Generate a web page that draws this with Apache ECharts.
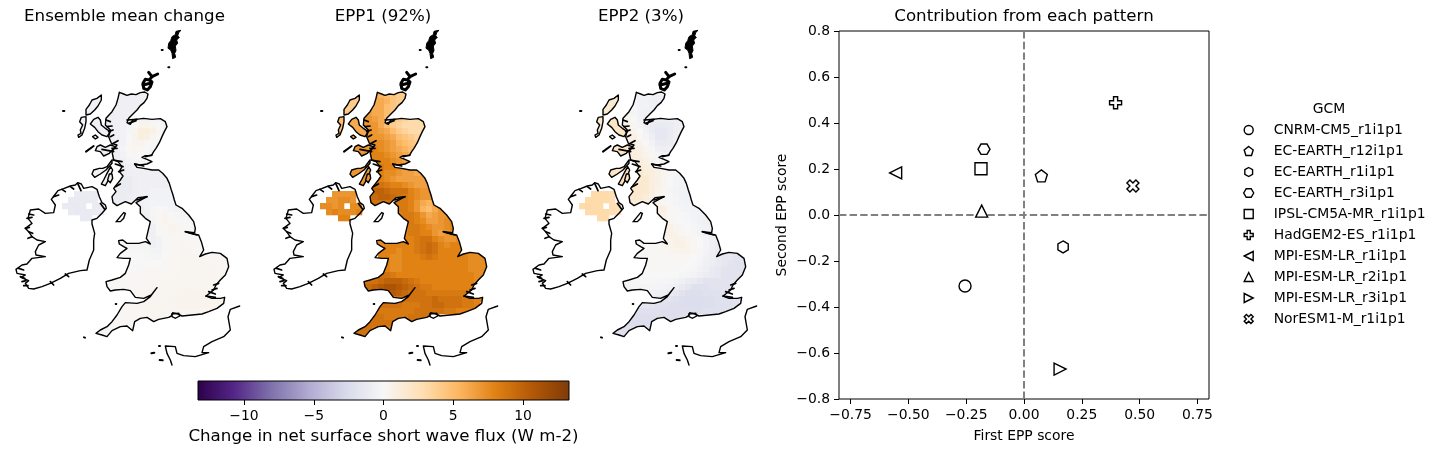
<!DOCTYPE html>
<html><head><meta charset="utf-8">
<style>html,body{margin:0;padding:0;background:#fff}#c{width:1440px;height:454px}</style>
<script src="https://cdn.jsdelivr.net/npm/echarts@6/dist/echarts.min.js"></script></head>
<body><div id="c"></div>
<script>
// ---------- scatter data ----------
const gcmNames=['CNRM-CM5_r1i1p1','EC-EARTH_r12i1p1','EC-EARTH_r1i1p1','EC-EARTH_r3i1p1','IPSL-CM5A-MR_r1i1p1','HadGEM2-ES_r1i1p1','MPI-ESM-LR_r1i1p1','MPI-ESM-LR_r2i1p1','MPI-ESM-LR_r3i1p1','NorESM1-M_r1i1p1'];
const firstScore=[-0.255,0.075,0.169,-0.173,-0.186,0.396,-0.555,-0.183,0.156,0.471];
const secondScore=[-0.309,0.17,-0.139,0.286,0.201,0.488,0.183,0.017,-0.67,0.126];
const gcmMarkers=['circle',
 'path://M50 0L100 38L81 100L19 100L0 38Z',
 'path://M50 0L93 25L93 75L50 100L7 75L7 25Z',
 'path://M25 7L75 7L100 50L75 93L25 93L0 50Z',
 'path://M0 0H100V100H0Z',
 'path://M33 0H67V33H100V67H67V100H33V67H0V33H33Z',
 'path://M0 50L100 0L100 100Z',
 'path://M50 0L100 100L0 100Z',
 'path://M0 0L100 50L0 100Z',
 'path://M25 0L50 25L75 0L100 25L75 50L100 75L75 100L50 75L25 100L0 75L25 50L0 25Z'];
const scoreXTicks=[-0.75,-0.5,-0.25,0,0.25,0.5,0.75];
const scoreYTicks=[-0.8,-0.6,-0.4,-0.2,0,0.2,0.4,0.6,0.8];
const barTicks=[-10,-5,0,5,10];
const barRange=[-13.3,13.3];
const puorStops=['#2d004b','#542788','#8073ac','#b2abd2','#d8daeb','#f7f7f7','#fee0b6','#fdb863','#e08214','#b35806','#7f3b08'];

// ---------- map data (map units: x 0-720, y 0-1050) ----------
const greatBritain=[[322,217],[335,222],[345,226],[358,222],[372,224],[385,218],[398,216],[408,222],[405,235],[396,248],[385,257],[375,270],[362,283],[350,295],[345,308],[355,313],[362,300],[372,298],[395,295],[420,298],[445,296],[460,305],[465,320],[457,335],[450,350],[442,368],[432,385],[425,395],[418,407],[400,407],[390,412],[405,418],[420,425],[405,432],[385,435],[368,432],[375,442],[395,445],[420,450],[440,450],[452,460],[465,475],[472,490],[478,510],[483,525],[487,540],[492,555],[510,565],[530,585],[545,605],[550,625],[548,638],[520,635],[535,640],[560,645],[568,665],[575,690],[563,710],[580,702],[600,697],[625,700],[645,715],[650,740],[640,765],[625,780],[612,795],[605,810],[590,822],[582,828],[600,835],[625,835],[638,832],[635,850],[615,865],[590,875],[570,882],[540,885],[510,888],[498,882],[482,878],[478,888],[470,892],[440,898],[425,905],[405,892],[385,895],[368,905],[362,932],[345,918],[325,920],[300,932],[285,950],[270,945],[252,940],[265,930],[285,920],[300,905],[315,885],[330,860],[340,848],[375,850],[395,845],[415,830],[435,803],[418,825],[395,835],[370,832],[355,812],[335,808],[310,810],[295,813],[285,800],[282,785],[300,780],[325,772],[340,760],[350,735],[355,715],[335,715],[315,713],[325,700],[345,685],[335,680],[322,672],[320,662],[332,660],[345,670],[380,670],[400,665],[415,672],[403,655],[410,625],[415,605],[400,595],[385,580],[385,560],[372,548],[405,530],[378,533],[358,552],[340,545],[315,557],[303,548],[300,530],[312,515],[305,505],[325,480],[333,468],[322,455],[330,440],[318,425],[305,420],[300,395],[315,375],[298,370],[290,350],[295,330],[280,315],[282,295],[300,275],[312,255],[318,235],[322,217]];
const ireland=[[118,538],[128,525],[138,512],[155,506],[175,498],[190,495],[197,488],[208,492],[215,505],[240,500],[255,508],[262,530],[270,548],[280,555],[283,565],[270,580],[255,595],[240,600],[240,612],[248,640],[245,660],[245,690],[232,720],[225,750],[205,752],[170,760],[145,775],[115,790],[90,800],[65,807],[50,805],[40,790],[50,782],[27,772],[40,765],[15,760],[12,748],[30,735],[45,732],[60,715],[100,710],[72,705],[70,695],[80,675],[100,665],[75,660],[60,650],[50,635],[40,625],[60,610],[48,595],[55,570],[80,567],[100,580],[125,578],[130,555],[118,538]];
const france=[[683,858],[655,868],[648,890],[655,930],[635,950],[600,965],[575,980],[570,998],[590,998],[550,1010],[515,1007],[495,1000],[490,980],[460,978],[465,1000],[475,1020],[480,1035]];
const isleOfMan=[[335,578],[325,590],[313,605],[325,605],[335,595],[340,580],[335,578]];
const wight=[[480,882],[500,880],[503,888],[490,895],[480,890],[480,882]];
const lewis=[[268,225],[255,235],[240,240],[232,255],[222,268],[222,285],[235,282],[248,270],[258,258],[268,240],[268,225]];
const uist=[[222,290],[208,292],[203,305],[212,315],[205,330],[207,340],[198,345],[200,352],[210,345],[218,325],[222,305],[222,290]];
const skye=[[258,292],[245,298],[235,312],[248,322],[258,335],[270,345],[285,350],[295,335],[280,325],[268,315],[265,300],[258,292]];
const mull=[[255,380],[250,392],[265,395],[275,408],[292,400],[310,380],[295,375],[280,382],[265,375],[255,380]];
const jura=[[300,420],[285,440],[272,445],[262,445],[245,450],[240,462],[248,472],[265,462],[282,450],[300,430],[300,420]];
const kintyre=[[296,440],[285,460],[275,480],[268,492],[280,497],[292,475],[302,450],[296,440]];
const arran=[[292,462],[287,480],[295,488],[302,475],[300,462],[292,462]];
const rum=[[250,345],[242,350],[250,357],[258,352],[250,345]];
const isleShapes=[lewis,uist,skye,mull,jura,kintyre,arran,rum];
const isleMean=[-.5,-.5,-.6,-.6,-.5,-.5,-.5,-.5];
const isleEpp1=[4,5,6,7,7,7,7,6];
const isleEpp2=[1.5,1.5,2,2,2,2.5,2.5,1];
const shetland=[[507,31],[500,38],[497,48],[502,52],[494,60],[497,70],[490,78],[492,92],[488,100],[491,112],[482,116],[480,100],[476,90],[468,85],[470,70],[476,62],[480,50],[490,44],[492,34],[507,31]];
const orkneyRing=[[420,170],[412,180],[400,178],[393,190],[395,205],[406,210],[415,200],[420,186],[412,180]];
const orkneyArm=[[410,157],[420,170],[437,162]];
const orkneySpur=[[393,195],[415,190]];
const specks=[[[153,273],[157,273]],[[449,90],[452,90]],[[469,142],[472,142]],[[216,952],[219,953]],[[311,852],[313,852]],[[418,1000],[427,998]],[[443,1020],[452,1021]],[[441,978],[444,978]],[[222,395],[245,378]]];
const coastStubs=[[[40,625],[52,622]],[[60,650],[48,655]],[[50,635],[62,640]],[[20,745],[35,750]],[[25,770],[38,775]],[[30,785],[42,782]],[[35,797],[48,797]],[[45,595],[60,592]],[[50,582],[65,585]],[[125,530],[140,525]],[[150,508],[160,515]],[[175,500],[185,507]],[[197,490],[207,512]],[[115,785],[125,795]],[[160,762],[170,770]],[[265,550],[278,568]],
[[282,300],[295,305]],[[285,320],[300,318]],[[290,335],[303,330]],[[295,350],[305,345]],[[300,372],[318,362]],[[300,385],[315,385]],[[270,388],[305,395]],[[303,420],[330,425]],[[310,432],[333,440]],[[320,455],[335,450]],[[345,300],[375,298]],[[350,310],[372,302]],[[375,540],[405,530]],[[520,635],[555,645]],[[582,828],[610,832]],[[590,815],[610,822]],[[605,795],[620,790]],[[600,810],[615,805]],[[310,500],[325,492]],[[400,410],[420,405]],[[368,432],[395,438]]];
const rowStart=[17,17,16,15,15,15,15,15,16,16,16,16,17,17,17,17,16,16,16,16,20,21,22,22,18,18,18,18,19,19,18,15,15,18,18,18,17,16,15,14,13];
const meanRows=[
[-.7,-.7,-.7,-.7,-.7,-.7],[-.7,-.7,-.7,-.7,-.7,-.7],[-.7,-.7,-.7,-.7,-.7,-.7],[-.8,-.8,-.7,-.7,-.7,-.7],
[-.8,-.8,-.7,-.6,-.5,-.4,-.4,-.4,-.3,-.3,-.3],[-.8,-.8,-.7,-.5,-.3,0,.5,.5,.3,0,-.3],[-.8,-.8,-.7,-.5,-.2,.3,1,1,.7,.2,-.2],[-.8,-.8,-.7,-.5,0,.5,1,.8,.3,0],
[-.8,-.7,-.5,.1,.4,.4,.2,0,-.2],[-.8,-.7,-.3,.2,.3,.2,0,-.2],[-.8,-.8,-.5,-.1,.1,0,-.2,-.3],[-.8,-.8,-.7,-.4,-.2,-.2,-.3,-.3],
[-.8,-.8,-.7,-.5,-.4,-.4,-.5,-.5],[-1,-1,-.8,-.7,-.6,-.6,-.6,-.6,-.6],[-1,-1,-1,-.8,-.7,-.7,-.7,-.6,-.6,-.6],[-1.2,-1.2,-1,-.8,-.7,-.7,-.6,-.6,-.6,-.6],
[-1,-1,-1,-1,-.8,-.7,-.6,-.5,-.5,-.5,-.5],[-1,-1,-1,-.9,-.8,-.7,-.6,-.5,-.5,-.5,-.5],[-1,-1,-1,-.9,-.8,-.7,-.5,-.4,-.4,-.4,-.4,-.4],[-.9,-.9,-.9,-.9,-.8,-.8,-.5,-.2,0,-.1,-.3,-.4,-.4],
[-.8,-.8,-.6,-.2,.2,.3,.1,-.2,-.3,-.3],[-.8,-.7,-.3,.2,.4,.3,.1,-.1,-.2,-.2],[-.8,-.6,-.1,.3,.4,.3,.1,-.1,-.2],[-.8,-.6,-.1,.2,.3,.3,.1,0,-.1],
[-.3,-.3,-.3,-.3,-.4,-.6,-.5,-.1,.1,.2,.2,.1,.1,0],[-.2,-.2,-.2,-.3,-.4,-.6,-.5,-.1,.1,.2,.3,.2,.2,.1],[-.1,-.1,-.1,-.1,-.2,-.4,-.4,-.1,.1,.2,.3,.3,.2,.2,.2,.2,.2,.2],[0,0,0,0,-.1,-.2,-.2,0,.1,.2,.3,.3,.3,.2,.2,.2,.2,.2],
[0,0,0,0,0,0,.1,.2,.2,.3,.3,.3,.3,.3,.2,.2,.2],[0,0,.1,.1,.1,.1,.1,.2,.2,.3,.3,.3,.3,.3,.3,.2,.2],[.1,.1,.1,.1,.1,.2,.2,.2,.2,.3,.3,.3,.3,.3,.3,.3,.3,.3],[.1,.1,.1,.1,.1,.1,.2,.2,.2,.2,.3,.3,.3,.3,.3,.3,.3,.3,.3,.3],
[.1,.1,.1,.1,.1,.2,.2,.2,.3,.3,.3,.3,.3,.3,.3,.3,.3,.3,.3],[.2,.2,.2,.2,.3,.3,.3,.3,.3,.3,.3,.4,.4,.4,.4,.4],[.2,.2,.2,.3,.3,.3,.3,.3,.4,.4,.4,.4,.4,.4,.4,.4,.4,.4],[.2,.2,.2,.3,.3,.3,.3,.3,.3,.4,.4,.4,.4,.4,.4,.4,.4],
[.2,.2,.2,.2,.2,.3,.3,.3,.3,.3,.3,.3,.3,.3,.3,.3,.3],[.2,.2,.2,.2,.2,.2,.2,.3,.3,.3,.3,.3],[.2,.2,.2,.2,.2,.2,.2,.2,.2],[.1,.1,.1,.1,.1,.1,.1],[.1,.1,.1,.1]];
const epp1Rows=[
[6,5.5,5,4.5,4,4],[6,6,5.5,4.5,4,3.5],[6.5,6,6,5,4.5,4],[7,6.5,6,6,5,4.5],
[7,7,6.5,6,5,4.5,4,3.5,3,3,3],[7,7,7,6,5,4,3.5,3,3,3,3],[7,7,7,6.5,6,5,4,3.5,3,3,3],[7,7,7,7,6.5,6,5,4.5,4,3.5],
[7.5,7.5,7.5,7,6.5,5.5,5,4.5,4],[8,8,7.5,7,6.5,6,5.5,5],[8,8,8,7.5,7,6.5,6,5.5],[8,8,8,8,7.5,7,6.5,6],
[8.5,8.5,8,8,7.5,7,6.5,6],[8.5,8,7.5,7.5,7,6.5,6.5,6,6],[8,8,7.5,7,6.5,6.5,6.5,6.5,6.5,6.5],[9,9,8.5,8,8,7.5,7,6.5,6.5,6.5],
[9.5,10,10,9.5,9,9,9,8,7.5,7,7],[9,9.5,10,10,9.5,9,8.5,8,7.5,7,7],[8.5,9,9,9,9,8.5,8.5,8,7,6,5.5,6],[8,8,8,8,8.5,8.5,8.5,8,7,5.5,5,6,7],
[8,8,8.5,8.5,8,7,6,6.5,7,7],[8,8.5,8.5,8,7.5,6.5,6.5,7,7.5,8],[8,8.5,8.5,8,7.5,7,7,7.5,8],[8,8.5,8.5,8,8,7,6.5,7,7.5],
[8,8,8,8,8,8,8.5,9,9,8,7.5,7,7,7.5],[7.5,8,8,8,8,8,8.5,9,9.5,9,8,7.5,8,8],[8,8,8,7.5,8,8,8.5,9,9.5,9,8,8,8,8,8,7.5,7.5,7.5],[8,8,7.5,7.5,8,8,8,8.5,9,8.5,8,8,8,8,8,7.5,7.5,7.5],
[8,7.5,7.5,8,8,8,8,8,8,8,8,8,8,8,7.5,7.5,7.5],[8,7.5,7.5,8,8,8,8,8,8,8,8,8,8,8,7.5,7.5,7.5],[9,9,8.5,8,8,8,8,8,8,8,8,8,8,8,8,8,7.5,7.5],[9,9,9,9.5,10,10,10,9.5,9,8.5,8,8,8,8,8,8,8,8,8,7.5],
[9,9.5,10,10.5,11,11,10.5,10,9.5,9,8.5,8.5,8,8,8,8,8,8,8],[10,10.5,10.5,10,9.5,9,9,9,8.5,8.5,8.5,8.5,8.5,8.5,8.5,8.5],[9,9,9,9,9,9,9,9,9,9.5,9,9,9,9,8.5,8.5,8,8],[9,9,9,9,8.5,8.5,8.5,9,9,9.5,9.5,9,9,9,8.5,8.5,8],
[8.5,8.5,8.5,8.5,8.5,8.5,8.5,9,9,9,9,9,8.5,8.5,8,8,8],[9,9,9,8.5,8.5,8.5,8.5,9,9,9,9,9],[9,9,9,9,9,9,9,9,9],[9,9,9,8.5,8.5,8.5,8.5],[9,9,9,9]];
const epp2Rows=[
[-.3,-.5,-.5,-.5,-.7,-.7],[0,-.5,-.5,-.7,-.7,-.7],[.3,0,-.5,-.5,-.7,-.7],[.5,.3,-.3,-.5,-.7,-.8],
[.5,.5,0,-.5,-.7,-.8,-.8,-.8,-.8,-.8,-.8],[.7,.5,.3,-.3,-.7,-1,-1.2,-1.2,-1,-.8,-.7],[.8,.7,.5,0,-.5,-1,-1.5,-1.5,-1.2,-.8,-.7],[.8,.8,.7,.2,-.3,-.8,-1.5,-1.5,-1,-.7],
[.8,.8,.5,0,-.5,-1,-1.2,-1,-.7],[1,1,.7,.3,-.2,-.7,-.8,-.7],[1,1,.8,.5,.2,-.3,-.5,-.5],[1.2,1,1,.7,.5,.2,-.2,-.3],
[1.5,1.2,1,.8,.5,.2,0,-.2],[1.5,1.5,1.2,1,.7,.3,.1,-.2,-.3],[1.5,1.5,1.5,1,.7,.3,0,-.3,-.4,-.5],[1.7,1.7,1.5,1,.7,.3,0,-.3,-.5,-.5],
[1.7,1.7,1.7,1.5,1,.5,.2,-.2,-.4,-.5,-.5],[1.5,1.7,1.5,1.2,.8,.5,.2,-.1,-.3,-.5,-.5],[1.2,1.2,1.2,1,.8,.5,.2,-.1,-.3,-.4,-.5,-.5],[1,1,1,1,.8,.8,.8,.2,-.1,-.3,-.4,-.5,-.5],
[.8,.8,.5,.2,.1,-.1,-.2,-.4,-.5,-.5],[.8,.7,.3,.1,0,-.1,-.3,-.5,-.6,-.6],[.8,.7,.3,.1,0,-.2,-.4,-.5,-.6],[.8,.7,.5,.2,0,-.2,-.4,-.6,-.7],
[.3,.3,.3,.3,.3,.5,.7,.6,.3,.2,0,-.3,-.6,-.8],[.1,.2,.2,.2,.3,.5,.7,.7,.4,.2,0,-.3,-.7,-1],[.2,.1,.1,.2,.2,.3,.5,.5,.4,.2,-.1,-.4,-.7,-1,-1.2,-1.2,-1.2,-1.2],[.1,.1,.1,.1,.1,.2,.2,.2,.1,0,-.2,-.5,-.8,-1.2,-1.5,-1.5,-1.7,-1.7],
[.1,.1,.1,.1,.1,.1,.1,0,-.1,-.3,-.6,-.9,-1.2,-1.5,-1.7,-1.8,-1.8],[0,.1,.1,.1,.1,.1,0,-.1,-.2,-.5,-.8,-1.1,-1.4,-1.7,-1.8,-1.8,-1.8],[-.1,0,0,0,0,0,0,-.2,-.3,-.5,-.8,-1,-1.3,-1.5,-1.8,-1.8,-1.8,-1.8],[-.2,-.2,-.2,-.1,-.1,-.1,-.2,-.2,-.3,-.4,-.6,-1,-1.2,-1.5,-1.8,-1.8,-1.8,-1.8,-1.8,-1.8],
[-.4,-.4,-.3,-.3,-.3,-.3,-.3,-.4,-.5,-.8,-1.2,-1.6,-2,-2,-2,-1.8,-1.8,-1.8,-1.8],[-.5,-.5,-.5,-.6,-.8,-1.1,-1.5,-1.8,-2.2,-2.2,-2.2,-2,-2,-2,-1.8,-1.8],[-1,-1,-1.2,-1.5,-1.8,-1.8,-2,-2.2,-2.3,-2.3,-2.3,-2.2,-2.2,-2,-2,-2,-1.8,-1.8],[-1.5,-1.5,-1.8,-2,-2,-2.2,-2.2,-2.3,-2.3,-2.3,-2.3,-2.2,-2.2,-2,-2,-2,-1.8],
[-2,-2,-2,-2,-2,-2.2,-2.2,-2.2,-2.2,-2.2,-2.2,-2.2,-2,-2,-2,-2,-2],[-2.2,-2.2,-2.2,-2.2,-2.2,-2.2,-2.2,-2.2,-2.2,-2.2,-2.2,-2.2],[-2.3,-2.3,-2.3,-2.3,-2.3,-2.3,-2.3,-2.3,-2.3],[-2.2,-2.2,-2.2,-2.2,-2.2,-2.2,-2.2],[-2,-2,-2,-2]];
const niStart=[2,1,0,1,3];
const niMean=[[-1,-1,-1,-1],[-1.2,-1.2,-1.2,-1.2,-1],[-1.2,-1.2,-1.3,-1.2,null,-1,-1],[-1.2,-1.3,-1.2,-1.2,-1,-1],[-1.2,-1.2]];
const niEpp1=[[7,7,7,7],[7,7,7.5,7.5,7],[7.5,7.5,7,7.5,null,7.5,7.5],[7.5,8,7.5,7.5,7.5,8],[8,8]];
const niEpp2=[[3,3,3,2.7],[3,3,3,3,2.7],[3,3.2,3,3,null,2.7,2.5],[3,3,3,3,2.7,2.5],[3,3]];

// ---------- helpers ----------
const CELL=18;
function colour(v){
  const t=Math.max(0,Math.min(1,(v-barRange[0])/(barRange[1]-barRange[0])))*(puorStops.length-1);
  const i=Math.min(puorStops.length-2,Math.floor(t)),f=t-i;
  const a=puorStops[i],b=puorStops[i+1];
  const ch=k=>Math.round(parseInt(a.substr(k,2),16)*(1-f)+parseInt(b.substr(k,2),16)*f);
  return `rgb(${ch(1)},${ch(3)},${ch(5)})`;
}
const FONT='DejaVu Sans';
const minus=s=>String(s).replace('-','\u2212');
function cellsSeries(g,rows,starts,x0,y0,z){
  const data=[];
  rows.forEach((row,r)=>row.forEach((v,c)=>{ if(v!==null) data.push([x0+(starts[r]+c)*CELL,y0+r*CELL,v]); }));
  return {type:'custom',xAxisIndex:g,yAxisIndex:g,z,silent:true,clip:false,animation:false,data,encode:{x:0,y:1},
    renderItem(p,api){
      const x=api.value(0),y=api.value(1);
      const a=api.coord([x,y]),b=api.coord([x+CELL,y+CELL]);
      return {type:'rect',shape:{x:a[0],y:a[1],width:b[0]-a[0]+.3,height:b[1]-a[1]+.3},style:{fill:colour(api.value(2))}};
    }};
}
function shapesSeries(g,shapes,styleOf,z,closed){
  return {type:'custom',xAxisIndex:g,yAxisIndex:g,z,silent:true,clip:false,animation:false,
    data:shapes.map((s,i)=>[s[0][0],s[0][1],i]),encode:{x:0,y:1},
    renderItem(p,api){
      const i=api.value(2);
      return {type:closed?'polygon':'polyline',shape:{points:shapes[i].map(q=>api.coord(q))},style:styleOf(i)};
    }};
}
const outline=(w)=>({fill:null,stroke:'#000',lineWidth:w||1.4,lineJoin:'round',lineCap:'round'});
const mapW=720,mapH=1050;
const maskRing=[[0,0],[0,mapH],[mapW,mapH],[mapW,0],[0,0],...greatBritain,[0,0]];
const panels=[{left:12,rows:meanRows,ni:niMean,isle:isleMean},{left:270,rows:epp1Rows,ni:niEpp1,isle:isleEpp1},{left:529,rows:epp2Rows,ni:niEpp2,isle:isleEpp2}];

const grid=[],xAxis=[],yAxis=[],series=[];
panels.forEach((p,g)=>{
  grid.push({left:p.left,top:20,width:240,height:350});
  xAxis.push({gridIndex:g,type:'value',min:0,max:mapW,show:false});
  yAxis.push({gridIndex:g,type:'value',min:0,max:mapH,inverse:true,show:false});
  series.push(cellsSeries(g,p.rows,rowStart,0,216,1));
  series.push(shapesSeries(g,[maskRing],()=>({fill:'#fff',stroke:null}),2,true));
  series.push(cellsSeries(g,p.ni,niStart,150,513,3));
  series.push(shapesSeries(g,isleShapes,i=>({fill:colour(p.isle[i]),stroke:'#000',lineWidth:1.4,lineJoin:'round'}),4,true));
  series.push(shapesSeries(g,[isleOfMan,wight],()=>({fill:'#fff',stroke:'#000',lineWidth:1.4}),4,true));
  series.push(shapesSeries(g,[shetland],()=>({fill:'#000',stroke:'#000',lineWidth:1}),4,true));
  series.push(shapesSeries(g,[orkneyRing,orkneyArm,orkneySpur],()=>outline(3),5,false));
  series.push(shapesSeries(g,[greatBritain,ireland,france],()=>outline(),5,false));
  series.push(shapesSeries(g,coastStubs,()=>outline(1.7),5,false));
  series.push(shapesSeries(g,specks,()=>outline(2),5,false));
});
// colour bar
grid.push({left:198,top:381,width:371,height:19});
xAxis.push({gridIndex:3,type:'value',min:barRange[0],max:barRange[1],name:'Change in net surface short wave flux (W m-2)',nameLocation:'middle',nameGap:28,
  nameTextStyle:{fontSize:16.67,color:'#000',fontFamily:FONT},axisLine:{show:false},splitLine:{show:false},
  axisTick:{show:true,length:5,lineStyle:{color:'#000',width:1},customValues:barTicks},
  axisLabel:{fontSize:13.9,color:'#000',margin:9,fontFamily:FONT,customValues:barTicks,formatter:v=>minus(v)}});
yAxis.push({gridIndex:3,type:'value',min:0,max:1,show:false});
series.push({type:'custom',xAxisIndex:3,yAxisIndex:3,silent:true,animation:false,clip:false,data:[[barRange[0],0,barRange[1],1]],encode:{x:[0,2],y:[1,3]},
  renderItem(p,api){
    const a=api.coord([api.value(0),api.value(3)]),b=api.coord([api.value(2),api.value(1)]);
    return {type:'rect',shape:{x:a[0],y:a[1],width:b[0]-a[0],height:b[1]-a[1]},
      style:{stroke:'#000',lineWidth:1,fill:new echarts.graphic.LinearGradient(0,0,1,0,puorStops.map((c,i)=>({offset:i/(puorStops.length-1),color:c})))}};
  }});
// scatter
grid.push({show:true,left:839,top:31,width:370,height:368,borderColor:'#000',borderWidth:1,backgroundColor:'transparent'});
const axisCommon={type:'value',min:-0.8,max:0.8,nameLocation:'middle',nameTextStyle:{fontSize:13.9,color:'#000',fontFamily:FONT},axisLine:{show:false,onZero:false},splitLine:{show:false}};
xAxis.push({...axisCommon,gridIndex:4,name:'First EPP score',nameGap:30,
  axisTick:{show:true,length:5,lineStyle:{color:'#000',width:1},customValues:scoreXTicks},
  axisLabel:{fontSize:13.9,color:'#000',margin:9,fontFamily:FONT,customValues:scoreXTicks,formatter:v=>minus(v.toFixed(2))}});
yAxis.push({...axisCommon,gridIndex:4,name:'Second EPP score',nameGap:50,
  axisTick:{show:true,length:5,lineStyle:{color:'#000',width:1},customValues:scoreYTicks},
  axisLabel:{fontSize:13.9,color:'#000',margin:9,fontFamily:FONT,customValues:scoreYTicks,formatter:v=>minus(v.toFixed(1))}});
const refStyle={color:'#808080',width:2,type:[7.4,3.2]};
series.push({type:'line',xAxisIndex:4,yAxisIndex:4,z:1,silent:true,animation:false,showSymbol:false,symbol:'none',lineStyle:refStyle,data:[[-0.8,0],[0.8,0]]});
series.push({type:'line',xAxisIndex:4,yAxisIndex:4,z:1,silent:true,animation:false,showSymbol:false,symbol:'none',lineStyle:refStyle,data:[[0,-0.8],[0,0.8]]});
gcmNames.forEach((n,i)=>series.push({type:'scatter',name:n,xAxisIndex:4,yAxisIndex:4,z:3,animation:false,silent:true,
  symbol:gcmMarkers[i],symbolSize:12,symbolKeepAspect:true,itemStyle:{color:'#fff',borderColor:'#000',borderWidth:1.4,opacity:1},
  data:[[firstScore[i],secondScore[i]]]}));

const titleAt=(text,x,y,fs)=>({text,left:x,top:y,textAlign:'center',padding:0,textStyle:{fontSize:fs,fontWeight:'normal',color:'#000',fontFamily:FONT}});
const option={animation:false,backgroundColor:'#fff',textStyle:{fontFamily:FONT},
  title:[titleAt('Ensemble mean change',124.5,8,16.67),titleAt('EPP1 (92%)',383,8,16.67),titleAt('EPP2 (3%)',641,8,16.67),titleAt('Contribution from each pattern',1024,8,16.67),titleAt('GCM',1329,102,13.9)],
  legend:{show:true,orient:'vertical',left:1243,top:123,padding:0,itemWidth:10,itemHeight:9,itemGap:7,selectedMode:false,
    textStyle:{fontSize:13.9,color:'#000',fontFamily:FONT,padding:[0,0,0,15]},
    itemStyle:{color:'#fff',borderColor:'#000',borderWidth:1.4},
    data:gcmNames.map((n,i)=>({name:n,icon:gcmMarkers[i]}))},
  grid,xAxis,yAxis,series};
echarts.init(document.getElementById('c'),null,{renderer:'canvas'}).setOption(option);
</script></body></html>
